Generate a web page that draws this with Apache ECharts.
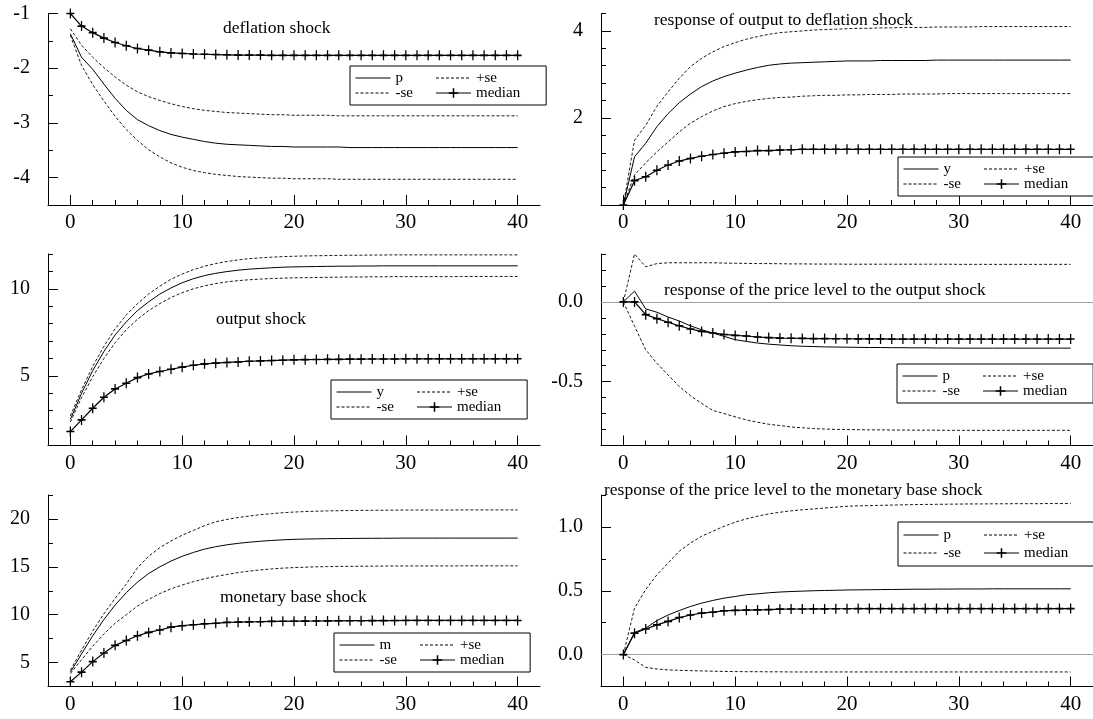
<!DOCTYPE html>
<html>
<head>
<meta charset="utf-8">
<script src="https://cdn.jsdelivr.net/npm/echarts@6/dist/echarts.min.js"></script>
<style>
html,body{margin:0;padding:0;background:#fff;}
#chart{width:1093px;height:719px;}
</style>
</head>
<body>
<div id="chart"></div>
<script>
// ---------- data ----------
const periods = [0,1,2,3,4,5,6,7,8,9,10,11,12,13,14,15,16,17,18,19,20,21,22,23,24,25,26,27,28,29,30,31,32,33,34,35,36,37,38,39,40];
const xTickLabels = [0,10,20,30,40];
const xMinorTicks = [0,2,4,6,8,10,12,14,16,18,20,22,24,26,28,30,32,34,36,38,40];

// panel 1: deflation shock
const p1_p = [-1.37,-1.80,-2.02,-2.29,-2.55,-2.77,-2.94,-3.05,-3.14,-3.21,
  -3.26,-3.30,-3.34,-3.37,-3.39,-3.40,-3.41,-3.42,-3.43,-3.43,
  -3.44,-3.44,-3.44,-3.44,-3.44,-3.45,-3.45,-3.45,-3.45,-3.45,
  -3.45,-3.45,-3.45,-3.45,-3.45,-3.45,-3.45,-3.45,-3.45,-3.45,-3.45];
const p1_hi = [-1.28,-1.58,-1.80,-1.99,-2.16,-2.31,-2.43,-2.52,-2.59,-2.65,
  -2.70,-2.74,-2.77,-2.79,-2.81,-2.82,-2.83,-2.84,-2.85,-2.85,
  -2.86,-2.86,-2.86,-2.86,-2.87,-2.87,-2.87,-2.87,-2.87,-2.87,
  -2.87,-2.87,-2.87,-2.87,-2.87,-2.87,-2.87,-2.87,-2.87,-2.87,-2.87];
const p1_lo = [-1.40,-1.95,-2.30,-2.60,-2.88,-3.12,-3.32,-3.49,-3.62,-3.73,
  -3.81,-3.87,-3.91,-3.94,-3.96,-3.98,-3.99,-4.00,-4.01,-4.01,
  -4.02,-4.02,-4.02,-4.02,-4.03,-4.03,-4.03,-4.03,-4.03,-4.03,
  -4.03,-4.03,-4.03,-4.03,-4.03,-4.03,-4.03,-4.03,-4.03,-4.03,-4.03];
const p1_med = [-1.00,-1.23,-1.35,-1.45,-1.53,-1.59,-1.64,-1.67,-1.70,-1.72,
  -1.73,-1.74,-1.745,-1.75,-1.755,-1.76,-1.76,-1.76,-1.765,-1.765,
  -1.765,-1.765,-1.765,-1.765,-1.765,-1.765,-1.765,-1.765,-1.765,-1.765,
  -1.765,-1.765,-1.765,-1.765,-1.765,-1.765,-1.765,-1.765,-1.765,-1.765,-1.765];

// panel 2: response of output to deflation shock
const p2_y = [0.00,1.11,1.42,1.80,2.10,2.35,2.55,2.72,2.85,2.95,
  3.03,3.10,3.16,3.21,3.24,3.26,3.27,3.28,3.29,3.30,
  3.31,3.31,3.31,3.32,3.32,3.32,3.32,3.32,3.33,3.33,
  3.33,3.33,3.33,3.33,3.33,3.33,3.33,3.33,3.33,3.33,3.33];
const p2_hi = [0.00,1.49,1.83,2.27,2.60,2.91,3.18,3.37,3.52,3.64,
  3.73,3.81,3.87,3.92,3.96,3.98,4.00,4.02,4.03,4.04,
  4.05,4.06,4.06,4.07,4.07,4.08,4.08,4.08,4.09,4.09,
  4.09,4.09,4.10,4.10,4.10,4.10,4.10,4.10,4.10,4.10,4.10];
const p2_lo = [0.00,0.69,0.97,1.22,1.45,1.68,1.88,2.03,2.16,2.26,
  2.33,2.38,2.42,2.45,2.47,2.48,2.50,2.51,2.52,2.52,
  2.53,2.53,2.54,2.54,2.54,2.55,2.55,2.55,2.55,2.56,
  2.56,2.56,2.56,2.56,2.56,2.56,2.56,2.56,2.56,2.56,2.56];
const p2_med = [0.00,0.56,0.65,0.80,0.92,1.01,1.07,1.12,1.16,1.19,
  1.22,1.23,1.25,1.25,1.26,1.27,1.28,1.28,1.28,1.28,
  1.28,1.28,1.28,1.28,1.28,1.28,1.28,1.28,1.28,1.28,
  1.28,1.28,1.28,1.28,1.28,1.28,1.28,1.28,1.28,1.28,1.28];

// panel 3: output shock
const p3_y = [2.50,4.00,5.30,6.40,7.35,8.10,8.75,9.25,9.70,10.05,
  10.35,10.58,10.76,10.89,10.99,11.07,11.13,11.17,11.21,11.24,
  11.26,11.27,11.28,11.29,11.30,11.30,11.31,11.31,11.32,11.32,
  11.32,11.32,11.32,11.32,11.32,11.32,11.32,11.32,11.32,11.32,11.32];
const p3_hi = [2.70,4.20,5.55,6.70,7.70,8.50,9.15,9.70,10.15,10.55,
  10.85,11.10,11.30,11.45,11.57,11.66,11.73,11.78,11.82,11.85,
  11.87,11.89,11.90,11.91,11.92,11.93,11.93,11.94,11.94,11.95,
  11.95,11.95,11.95,11.95,11.95,11.95,11.95,11.95,11.95,11.95,11.95];
const p3_lo = [2.35,3.75,4.95,6.00,6.90,7.65,8.25,8.75,9.15,9.50,
  9.78,10.00,10.17,10.30,10.40,10.47,10.52,10.56,10.59,10.61,
  10.63,10.64,10.65,10.66,10.67,10.68,10.68,10.69,10.69,10.70,
  10.70,10.70,10.70,10.70,10.70,10.71,10.71,10.71,10.71,10.71,10.71];
const p3_med = [1.80,2.47,3.14,3.77,4.25,4.58,4.90,5.11,5.25,5.38,
  5.50,5.61,5.69,5.73,5.77,5.80,5.84,5.86,5.88,5.90,
  5.92,5.93,5.94,5.95,5.95,5.96,5.96,5.97,5.97,5.97,
  5.98,5.98,5.98,5.98,5.98,5.98,5.98,5.98,5.98,5.98,5.98];

// panel 4: response of the price level to the output shock
const p4_p = [0.00,0.067,-0.044,-0.065,-0.095,-0.12,-0.15,-0.175,-0.195,-0.216,
  -0.237,-0.248,-0.258,-0.265,-0.27,-0.275,-0.278,-0.28,-0.282,-0.283,
  -0.284,-0.285,-0.286,-0.286,-0.287,-0.287,-0.288,-0.288,-0.289,-0.289,
  -0.29,-0.29,-0.29,-0.29,-0.29,-0.29,-0.29,-0.29,-0.29,-0.29,-0.29];
const p4_hi = [0.00,0.30,0.22,0.24,0.245,0.245,0.245,0.245,0.245,0.243,
  0.242,0.241,0.240,0.240,0.239,0.238,0.238,0.237,0.237,0.237,
  0.236,0.236,0.236,0.236,0.236,0.236,0.236,0.236,0.236,0.236,
  0.235,0.235,0.235,0.235,0.235,0.235,0.235,0.235,0.235,0.235,0.235];
const p4_lo = [0.00,-0.153,-0.30,-0.385,-0.458,-0.53,-0.588,-0.636,-0.68,-0.70,
  -0.72,-0.74,-0.754,-0.767,-0.775,-0.784,-0.789,-0.794,-0.797,-0.799,
  -0.80,-0.801,-0.802,-0.802,-0.803,-0.803,-0.804,-0.804,-0.804,-0.805,
  -0.805,-0.805,-0.805,-0.805,-0.805,-0.805,-0.805,-0.805,-0.805,-0.805,-0.805];
const p4_med = [0.00,0.00,-0.08,-0.105,-0.128,-0.15,-0.17,-0.185,-0.195,-0.204,
  -0.21,-0.214,-0.22,-0.224,-0.227,-0.228,-0.229,-0.23,-0.23,-0.231,
  -0.231,-0.232,-0.232,-0.232,-0.233,-0.233,-0.233,-0.233,-0.233,-0.233,
  -0.233,-0.233,-0.233,-0.233,-0.233,-0.233,-0.233,-0.233,-0.233,-0.233,-0.233];

// panel 5: monetary base shock
const p5_m = [4.00,5.90,7.80,9.50,11.00,12.30,13.40,14.30,15.00,15.60,
  16.10,16.50,16.85,17.10,17.30,17.45,17.57,17.67,17.75,17.82,
  17.87,17.90,17.92,17.94,17.95,17.96,17.97,17.98,17.98,17.99,
  18.00,18.00,18.00,18.00,18.00,18.00,18.00,18.00,18.00,18.00,18.00];
const p5_hi = [4.20,6.30,8.30,10.10,11.70,13.20,14.90,16.10,17.00,17.70,
  18.30,18.80,19.30,19.70,19.95,20.15,20.30,20.45,20.55,20.65,
  20.72,20.77,20.81,20.84,20.86,20.88,20.89,20.90,20.91,20.92,
  20.93,20.93,20.93,20.93,20.93,20.94,20.94,20.94,20.94,20.94,20.94];
const p5_lo = [3.85,5.30,6.70,8.00,9.10,10.00,10.90,11.60,12.20,12.70,
  13.10,13.45,13.75,14.00,14.20,14.40,14.55,14.68,14.78,14.86,
  14.92,14.96,15.00,15.02,15.04,15.05,15.06,15.07,15.08,15.08,
  15.09,15.09,15.09,15.09,15.09,15.10,15.10,15.10,15.10,15.10,15.10];
const p5_med = [3.00,4.00,5.10,6.00,6.80,7.30,7.80,8.15,8.40,8.70,
  8.85,8.95,9.05,9.10,9.20,9.22,9.25,9.27,9.30,9.31,
  9.32,9.33,9.34,9.35,9.36,9.37,9.37,9.38,9.38,9.39,
  9.40,9.40,9.40,9.40,9.40,9.40,9.40,9.40,9.40,9.40,9.40];

// panel 6: response of the price level to the monetary base shock
const p6_p = [0.00,0.173,0.207,0.267,0.31,0.345,0.377,0.403,0.424,0.442,
  0.455,0.469,0.476,0.484,0.49,0.494,0.497,0.50,0.502,0.504,
  0.506,0.507,0.508,0.509,0.51,0.511,0.512,0.512,0.513,0.513,
  0.514,0.514,0.514,0.515,0.515,0.515,0.515,0.515,0.515,0.515,0.515];
const p6_hi = [0.00,0.364,0.51,0.625,0.717,0.81,0.874,0.927,0.966,1.005,
  1.037,1.063,1.084,1.102,1.115,1.126,1.134,1.141,1.148,1.155,
  1.162,1.165,1.167,1.169,1.171,1.173,1.175,1.176,1.177,1.178,
  1.179,1.180,1.180,1.181,1.181,1.182,1.182,1.182,1.183,1.183,1.183];
const p6_lo = [0.00,-0.042,-0.10,-0.113,-0.12,-0.123,-0.126,-0.128,-0.130,-0.132,
  -0.133,-0.134,-0.134,-0.135,-0.135,-0.136,-0.136,-0.136,-0.136,-0.136,
  -0.136,-0.136,-0.136,-0.136,-0.136,-0.136,-0.136,-0.136,-0.136,-0.136,
  -0.136,-0.136,-0.136,-0.136,-0.136,-0.136,-0.136,-0.136,-0.136,-0.136,-0.136];
const p6_med = [0.00,0.168,0.20,0.233,0.26,0.29,0.31,0.325,0.332,0.343,
  0.346,0.348,0.35,0.352,0.356,0.357,0.357,0.358,0.358,0.359,
  0.359,0.36,0.36,0.36,0.36,0.36,0.36,0.36,0.36,0.36,
  0.36,0.36,0.36,0.36,0.36,0.36,0.36,0.36,0.36,0.36,0.36];

// tick labels / ticks for y axes
const y1_labels = [-4,-3,-2,-1],      y1_minor = [-4.5,-4,-3.5,-3,-2.5,-2,-1.5,-1];
const y2_labels = [2,4],              y2_minor = [0.4,0.8,1.2,1.6,2,2.4,2.8,3.2,3.6,4,4.4];
const y3_labels = [5,10],             y3_minor = [2,3,4,5,6,7,8,9,10,11,12];
const y4_labels = [-0.5,0],           y4_minor = [-0.8,-0.7,-0.6,-0.5,-0.4,-0.3,-0.2,-0.1,0,0.1,0.2,0.3];
const y5_labels = [5,10,15,20],       y5_minor = [5,7.5,10,12.5,15,17.5,20,22.5];
const y6_labels = [0,0.5,1],          y6_minor = [-0.25,0,0.25,0.5,0.75,1,1.25];

const titles = [
  'deflation shock',
  'response of output to deflation shock',
  'output shock',
  'response of the price level to the output shock',
  'monetary base shock',
  'response of the price level to the monetary base shock'
];

// ---------- layout / style ----------
const FONT = '"Liberation Serif","Times New Roman","DejaVu Serif",serif';
const PLUS = 'path://M4.2,0H5.8V4.2H10V5.8H5.8V10H4.2V5.8H0V4.2H4.2Z';

const panels = [
  {grid:{left:48, top:13.5, width:492, height:191.5}, ymin:-4.5, ymax:-1, yl:y1_labels, ym:y1_minor, dec:0,
   main:'p', s:[p1_p,p1_hi,p1_lo,p1_med], title:{left:223, top:18}, legend:{left:350, top:66}},
  {grid:{left:601, top:13.5, width:492, height:191.5}, ymin:0, ymax:4.4, yl:y2_labels, ym:y2_minor, dec:0,
   main:'y', s:[p2_y,p2_hi,p2_lo,p2_med], title:{left:654, top:10}, legend:{left:898, top:157}},
  {grid:{left:48, top:254, width:492, height:191.5}, ymin:1, ymax:12, yl:y3_labels, ym:y3_minor, dec:0,
   main:'y', s:[p3_y,p3_hi,p3_lo,p3_med], title:{left:216, top:309}, legend:{left:331, top:380}},
  {grid:{left:601, top:254, width:492, height:191.5}, ymin:-0.9, ymax:0.3, yl:y4_labels, ym:y4_minor, dec:1,
   main:'p', s:[p4_p,p4_hi,p4_lo,p4_med], title:{left:664, top:280}, legend:{left:897, top:364}, zero:true},
  {grid:{left:48, top:495, width:492, height:191.5}, ymin:2.5, ymax:22.5, yl:y5_labels, ym:y5_minor, dec:0,
   main:'m', s:[p5_m,p5_hi,p5_lo,p5_med], title:{left:220, top:587}, legend:{left:334, top:633}},
  {grid:{left:601, top:495, width:492, height:191.5}, ymin:-0.25, ymax:1.25, yl:y6_labels, ym:y6_minor, dec:1,
   main:'p', s:[p6_p,p6_hi,p6_lo,p6_med], title:{left:604, top:480}, legend:{left:898, top:522}, zero:true, tall:true}
];

const grid = [], xAxis = [], yAxis = [], series = [], title = [], legend = [];

panels.forEach((P, i) => {
  grid.push(P.grid);
  const gi = i;
  xAxis.push({
    type:'value', gridIndex:gi, min:-2, max:42, position:'bottom',
    axisLine:{show:true, onZero:false, lineStyle:{color:'#000', width:1}},
    axisTick:{show:true, inside:true, length:10, customValues:xTickLabels, lineStyle:{color:'#000', width:1}},
    axisLabel:{show:true, customValues:xTickLabels, margin:7, color:'#000', fontFamily:FONT, fontSize:21},
    splitLine:{show:false}
  });
  xAxis.push({
    type:'value', gridIndex:gi, min:-2, max:42, position:'bottom',
    axisLine:{show:false, onZero:false},
    axisTick:{show:true, inside:true, length:5, customValues:xMinorTicks, lineStyle:{color:'#000', width:1}},
    axisLabel:{show:false}, splitLine:{show:false}
  });
  const fmt = P.dec ? (v => Number(v).toFixed(1)) : (v => String(v));
  yAxis.push({
    type:'value', gridIndex:gi, min:P.ymin, max:P.ymax, position:'left',
    axisLine:{show:true, onZero:false, lineStyle:{color:'#000', width:1}},
    axisTick:{show:true, inside:true, length:10, customValues:P.yl, lineStyle:{color:'#000', width:1}},
    axisLabel:{show:true, customValues:P.yl, formatter:fmt, margin:18, color:'#000', fontFamily:FONT, fontSize:20},
    splitLine:{show:false}
  });
  yAxis.push({
    type:'value', gridIndex:gi, min:P.ymin, max:P.ymax, position:'left',
    axisLine:{show:false, onZero:false},
    axisTick:{show:true, inside:true, length:5, customValues:P.ym, lineStyle:{color:'#000', width:1}},
    axisLabel:{show:false}, splitLine:{show:false}
  });

  const names = [P.main, '+se', '-se', 'median'];
  const styles = [
    {lineStyle:{color:'#000', width:1, type:'solid'}, symbol:'none', itemStyle:{color:'#000', opacity:0}},
    {lineStyle:{color:'#000', width:0.9, type:[3,2]}, symbol:'none', itemStyle:{color:'#000', opacity:0}},
    {lineStyle:{color:'#000', width:0.9, type:[3,2]}, symbol:'none', itemStyle:{color:'#000', opacity:0}},
    {lineStyle:{color:'#000', width:1.2, type:'solid'}, symbol:PLUS, symbolSize:[8,10],
     showSymbol:true, itemStyle:{color:'#000', borderWidth:0}}
  ];
  P.s.forEach((arr, k) => {
    const s = Object.assign({
      type:'line', name:names[k], xAxisIndex:2*gi, yAxisIndex:2*gi,
      data: periods.map((t, j) => [t, arr[j]]),
      animation:false, silent:true, z:3
    }, styles[k]);
    if (k === 0 && P.zero) {
      s.markLine = {
        silent:true, symbol:['none','none'], label:{show:false},
        lineStyle:{color:'#a0a0a0', type:'solid', width:1, opacity:1},
        data:[{yAxis:0}], animation:false, z:1
      };
    }
    series.push(s);
  });

  title.push({
    text:titles[i], left:P.title.left, top:P.title.top, padding:0,
    textStyle:{fontFamily:FONT, fontSize:17.5, fontWeight:'normal', color:'#000', lineHeight:20}
  });

  const tall = !!P.tall;
  legend.push({
    data:names, left:P.legend.left, top:P.legend.top, width:200, orient:'horizontal',
    selectedMode:false, itemWidth:35, itemHeight:12,
    itemGap: tall ? 2 : -1,
    padding: tall ? [5,26,5,5] : [4,26,4,5],
    borderColor:'#000', borderWidth:1, borderRadius:0, backgroundColor:'#fff',
    lineStyle:{width:1},
    textStyle:{fontFamily:FONT, fontSize:15, color:'#000', width: tall ? 38 : 41, lineHeight:16}
  });
});

const chart = echarts.init(document.getElementById('chart'), null, {renderer:'canvas'});
chart.setOption({
  backgroundColor:'#fff',
  animation:false,
  title, legend, grid, xAxis, yAxis, series
});
</script>
</body>
</html>
